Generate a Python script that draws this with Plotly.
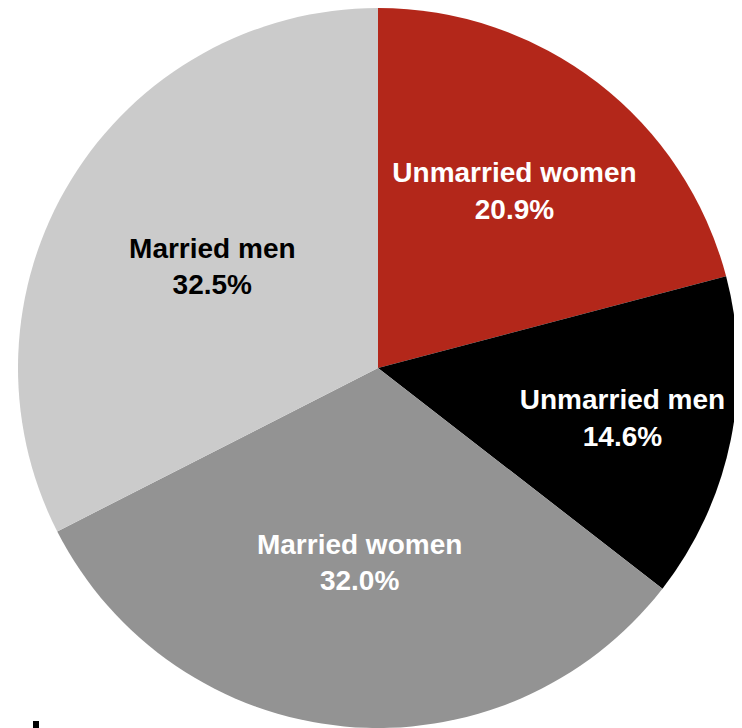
import plotly.graph_objects as go

labels = ["Unmarried women", "Unmarried men", "Married women", "Married men"]
values = [20.9, 14.6, 32.0, 32.5]
colors = ["#B3271A", "#000000", "#939393", "#CBCBCB"]
text_colors = ["#FFFFFF", "#FFFFFF", "#FFFFFF", "#000000"]

W, H = 742, 728

fig = go.Figure(go.Pie(
    labels=labels,
    values=values,
    sort=False,
    direction="clockwise",
    rotation=0,
    marker=dict(colors=colors, line=dict(width=0)),
    texttemplate="<b>%{label}</b><br><b>%{value:.1f}%</b>",
    textposition="inside",
    insidetextorientation="horizontal",
    textfont=dict(family="Liberation Sans, Arial, sans-serif", size=28, color=text_colors),
    hoverinfo="label+value",
    showlegend=False,
    domain=dict(x=[10 / W, 730 / W], y=[1 - 720 / H, 1]),
))

fig.add_shape(type="rect", xref="paper", yref="paper",
              x0=25 / W, x1=31 / W, y0=(H - 720) / H, y1=(H - 713) / H,
              fillcolor="#000000", line=dict(width=0))

fig.update_layout(
    width=W, height=H,
    margin=dict(l=0, r=0, t=0, b=0),
    paper_bgcolor="#FFFFFF",
    plot_bgcolor="#FFFFFF",
)

fig.write_html("out.html")
